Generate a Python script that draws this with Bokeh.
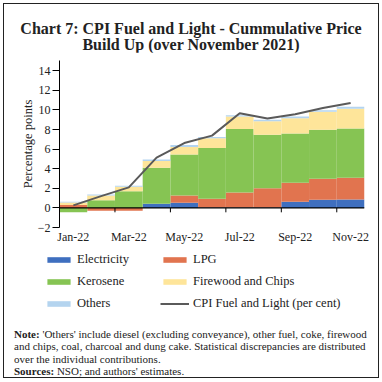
import numpy as np
from bokeh.plotting import figure
from bokeh.models import (ColumnDataSource, Legend, LegendItem, Div,
                          FixedTicker, LinearAxis, Range1d)
from bokeh.layouts import column
from bokeh.embed import file_html
from bokeh.resources import INLINE

# ---------------- data ----------------
months = ["Jan-22", "Feb-22", "Mar-22", "Apr-22", "May-22", "Jun-22",
          "Jul-22", "Aug-22", "Sep-22", "Oct-22", "Nov-22"]
electricity = [0.0, 0.0, 0.0, 0.43, 0.53, 0.05, 0.05, 0.05, 0.63, 0.83, 0.87]
lpg = [0.30, -0.30, -0.30, 0.0, 0.74, 0.88, 1.52, 1.95, 1.94, 2.14, 2.20]
kerosene = [-0.45, 0.77, 1.70, 3.67, 4.18, 5.19, 6.49, 5.46, 5.02, 5.02, 5.05]
firewood = [0.25, 0.50, 0.47, 0.68, 0.77, 1.00, 1.27, 1.40, 1.57, 1.84, 2.01]
others = [0.07, 0.10, 0.10, 0.17, 0.20, 0.13, 0.13, 0.14, 0.17, 0.13, 0.20]
cpi_fuel = [0.26, 1.20, 2.10, 5.14, 6.62, 7.38, 9.66, 9.13, 9.56, 10.20, 10.70]

series_names = ["Electricity", "LPG", "Kerosene", "Firewood and Chips", "Others"]
series_vals = [electricity, lpg, kerosene, firewood, others]
series_colors = ["#3F6FBF", "#E1744F", "#86C453", "#FEE59A", "#B4D4EF"]
line_name = "CPI Fuel and Light (per cent)"
line_color = "#5A5A5A"
legend_order = ["Electricity", "Kerosene", "Others", "LPG", "Firewood and Chips", line_name]

y_ticks = [-2, 0, 2, 4, 6, 8, 10, 12, 14]
y_min, y_max = -2, 15
label_months = ["Jan-22", "Mar-22", "May-22", "Jul-22", "Sep-22", "Nov-22"]

title_lines = ["Chart 7: CPI Fuel and Light - Cummulative Price", "Build Up (over November 2021)"]
note_html = ("<b>Note:</b> 'Others' include diesel (excluding conveyance), other fuel, coke, firewood<br>"
             "and chips, coal, charcoal and dung cake. Statistical discrepancies are distributed<br>"
             "over the individual contributions.<br><b>Sources:</b> NSO; and authors' estimates.")

SERIF = "Liberation Serif"
BOX = "1px solid #222"
W = 376

n = len(months)
x = np.arange(n)


def stack(vals_list):
    pos_base = np.zeros(n)
    neg_base = np.zeros(n)
    out = []
    for vals in vals_list:
        v = np.array(vals, dtype=float)
        bottom = np.where(v >= 0, pos_base, neg_base)
        top = bottom + v
        pos_base = np.where(v >= 0, top, pos_base)
        neg_base = np.where(v < 0, top, neg_base)
        out.append((bottom, top))
    return out


stacked = stack(series_vals)

# ---------------- main chart ----------------
p = figure(width=W, height=194, output_backend="svg", toolbar_location=None,
           x_range=Range1d(-0.5, n - 0.5), y_range=Range1d(y_min, 15.05),
           min_border_left=55, min_border_right=16, min_border_top=8,
           min_border_bottom=16, x_axis_type=None, y_axis_type=None,
           margin=(0, 0, 0, 3),
           styles={"border-left": BOX, "border-right": BOX})
p.outline_line_color = None
p.grid.visible = False

for name, (bottom, top), col in zip(series_names, stacked, series_colors):
    src = ColumnDataSource(dict(x=x, bottom=bottom, top=top))
    p.vbar(x="x", bottom="bottom", top="top", width=1.0, source=src,
           fill_color=col, line_color=None)

p.line(x, cpi_fuel, line_color=line_color, line_width=2)

p.segment(x0=[-0.5], x1=[n - 0.5], y0=[0], y1=[0], line_color="black", line_width=1.2)
label_idx = [months.index(m) for m in label_months]
bx = [i - 0.5 for i in label_idx if i > 0]
p.segment(x0=bx, x1=bx, y0=[0] * len(bx), y1=[-0.45] * len(bx),
          line_color="black", line_width=1)

xaxis = LinearAxis(ticker=FixedTicker(ticks=label_idx),
                   major_label_overrides={i: months[i] for i in label_idx})
xaxis.axis_line_color = None
xaxis.major_tick_line_color = None
xaxis.major_tick_out = 0
xaxis.major_tick_in = 0
xaxis.minor_tick_line_color = None
xaxis.minor_tick_out = 0
xaxis.major_label_standoff = 2
xaxis.major_label_text_font = SERIF
xaxis.major_label_text_font_size = "12px"
xaxis.major_label_text_color = "#222"
p.add_layout(xaxis, "below")

yaxis = LinearAxis(ticker=FixedTicker(ticks=y_ticks), axis_label="Percentage points",
                   bounds=(y_min, y_max))
yaxis.axis_line_color = "black"
yaxis.major_tick_line_color = "black"
yaxis.major_tick_out = 7
yaxis.major_tick_in = 0
yaxis.minor_tick_line_color = None
yaxis.major_label_standoff = 2
yaxis.major_label_text_font = SERIF
yaxis.major_label_text_font_size = "12px"
yaxis.major_label_text_color = "#222"
yaxis.axis_label_text_font = SERIF
yaxis.axis_label_text_font_size = "12.5px"
yaxis.axis_label_text_font_style = "normal"
yaxis.axis_label_text_color = "#222"
yaxis.axis_label_standoff = 0
p.add_layout(yaxis, "left")

# ---------------- legend strip (proxies of the same series, off-range) ----------------
pl = figure(width=W, height=82, output_backend="svg", toolbar_location=None,
            x_range=Range1d(-0.5, n - 0.5), y_range=Range1d(1000, 1001),
            min_border_left=0, min_border_right=0, min_border_top=0,
            min_border_bottom=0, x_axis_type=None, y_axis_type=None,
            margin=(0, 0, 0, 3),
            styles={"border-left": BOX, "border-right": BOX})
try:
    pl.frame_align = False
    p.frame_align = False
except Exception:
    pass
pl.outline_line_color = None
pl.grid.visible = False
proxy = {}
for name, (bottom, top), col in zip(series_names, stacked, series_colors):
    proxy[name] = pl.vbar(x=x, bottom=bottom, top=top, width=1.0,
                          fill_color=col, line_color=None)
proxy[line_name] = pl.line(x, cpi_fuel, line_color=line_color, line_width=2)

items = [LegendItem(label=nm, renderers=[proxy[nm]]) for nm in legend_order]
legend = Legend(items=items, ncols=2, location=(40, 17), margin=0, padding=0,
                border_line_color=None, background_fill_alpha=0,
                glyph_width=29, glyph_height=7, label_standoff=4, spacing=7,
                label_height=14, label_width=76,
                label_text_font=SERIF, label_text_font_size="12.5px",
                label_text_color="#222")
pl.add_layout(legend, "center")

# ---------------- texts ----------------
title_html = '<div style="padding-top:7px; line-height:16px">' + "<br>".join(title_lines) + "</div>"
title_div = Div(text=title_html, width=W, height=49, margin=(3, 0, 0, 3),
                styles={"font-family": SERIF, "font-weight": "bold", "font-size": "16px",
                        "line-height": "18px", "text-align": "center", "color": "#222",
                        "padding-top": "10px", "width": f"{W}px", "height": "49px",
                        "box-sizing": "border-box",
                        "border-top": BOX, "border-left": BOX, "border-right": BOX})
note_div = Div(text=note_html, width=W, height=50, margin=(0, 0, 0, 3),
               styles={"font-family": SERIF, "font-size": "11px", "line-height": "12.3px",
                       "color": "#222", "padding-left": "10px", "white-space": "nowrap",
                       "width": f"{W}px", "height": "50px", "box-sizing": "border-box",
                       "border-bottom": BOX, "border-left": BOX, "border-right": BOX})

layout = column(title_div, p, pl, note_div, spacing=0)

open("out.html", "w").write(file_html(layout, INLINE))
